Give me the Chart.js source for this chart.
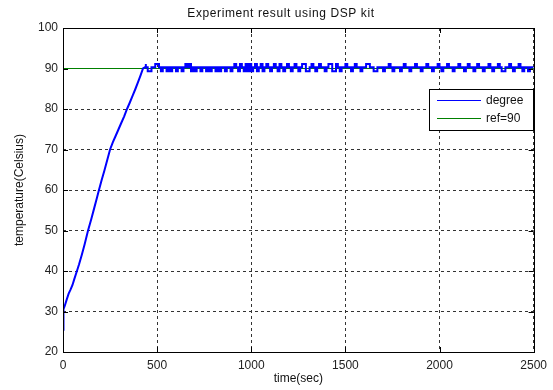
<!DOCTYPE html>
<html>
<head>
<meta charset="utf-8">
<script src="https://cdn.jsdelivr.net/npm/chart.js@4/dist/chart.umd.min.js"></script>
<style>
  html, body { margin: 0; padding: 0; background: #fff; }
  #wrap { width: 553px; height: 390px; }
</style>
</head>
<body>
<div id="wrap"><canvas id="graphCanvas" width="553" height="390"></canvas></div>
<script>
// rise part of the measured temperature (time in sec, value in Celsius)
const riseTime = [0, 0, 5, 10, 20, 30, 40, 50, 60, 74, 85, 100, 115, 133, 150, 165, 180, 191, 205, 220,
    235, 250, 265, 280, 295, 310, 325, 340, 355, 370, 385, 400, 412, 425, 435, 440];
const riseValue = [25.5, 30, 30.6, 31.5, 33, 34.4, 35.4, 36.5, 38, 40, 41.6, 44, 46.6, 50, 52.8, 55.4, 58, 60, 62.4, 64.8,
    67.4, 70, 71.8, 73.4, 75, 76.6, 78.2, 80, 81.6, 83.3, 85, 86.8, 88.3, 90, 90.3, 90.3];

// steady part, sampled every 10 sec starting at 440 sec
const plateauStart = 440;
const plateauStep = 10;
const plateauValue = [
    91.1, 90.3, 89.3, 89.3, 90.3, 90.3,
    91.1, 91.1, 90.3, 89.3, 90.3, 90.3, 89.3, 90.3, 89.3, 90.3,
    90.3, 89.3, 90.3, 90.3, 89.3, 90.3, 91.1, 90.3, 91.1, 89.3,
    90.3, 89.3, 90.3, 90.3, 89.3, 90.3, 90.3, 89.3, 90.3, 89.3,
    90.3, 90.3, 89.3, 90.3, 89.3, 90.3, 90.3, 89.3, 90.3, 90.3,
    89.3, 90.3, 91.1, 90.3, 89.3, 91.1, 90.3, 89.3, 91.1, 89.3,
    91.1, 89.3, 90.3, 91.1, 89.3, 90.3, 91.1, 89.3, 90.3, 91.1,
    90.3, 89.3, 90.3, 91.1, 90.3, 89.3, 91.1, 90.3, 89.3, 90.3,
    91.1, 90.3, 89.3, 90.3, 91.1, 90.3, 89.3, 90.3, 91.1, 91.1,
    89.3, 89.3, 90.3, 91.1, 90.3, 89.3, 90.3, 91.1, 90.3, 90.3,
    89.3, 90.3, 91.1, 91.1, 89.3, 89.3, 91.1, 90.3, 89.3, 90.3,
    90.3, 91.1, 90.3, 90.3, 89.3, 90.3, 91.1, 90.3, 90.3, 89.3,
    90.3, 90.3, 91.1, 91.1, 90.3, 90.3, 89.3, 89.3, 90.3, 90.3,
    90.3, 89.3, 90.3, 90.3, 91.1, 90.3, 89.3, 90.3, 90.3, 90.3,
    89.3, 90.3, 91.1, 90.3, 90.3, 89.3, 90.3, 90.3, 91.1, 90.3,
    90.3, 89.3, 90.3, 90.3, 91.1, 90.3, 90.3, 89.3, 90.3, 90.3,
    91.1, 90.3, 89.3, 90.3, 90.3, 91.1, 90.3, 90.3, 89.3, 90.3,
    90.3, 91.1, 90.3, 90.3, 89.3, 90.3, 91.1, 90.3, 90.3, 89.3,
    90.3, 91.1, 90.3, 90.3, 89.3, 90.3, 90.3, 91.1, 90.3, 89.3,
    90.3, 90.3, 91.1, 90.3, 89.3, 89.3, 90.3, 90.3, 91.1, 90.3,
    89.3, 90.3, 90.3, 91.1, 90.3, 89.3, 90.3, 90.3, 89.3, 90.3, 90.3
];

const refTime = [0, 2500];
const refValue = [90, 90];

const xTicks = [0, 500, 1000, 1500, 2000, 2500];
const yTicks = [20, 30, 40, 50, 60, 70, 80, 90, 100];

const seriesLabels = ['degree', 'ref=90'];
const seriesColors = ['#0000ff', '#008000'];
const chartTitle = 'Experiment result using DSP kit';

const risePoints = riseTime.map((t, i) => ({ x: t, y: riseValue[i] }));
const plateauPoints = plateauValue.map((v, i) => ({ x: plateauStart + i * plateauStep, y: v }));
const refPoints = refTime.map((t, i) => ({ x: t, y: refValue[i] }));

const FONT = 'Liberation Sans, Arial, sans-serif';

// title, box round the plot with inward ticks, and the legend inside it
const boxPlugin = {
    id: 'box',
    afterDatasetsDraw(chart) {
        const { ctx, chartArea: a, scales } = chart;
        ctx.save();
        ctx.strokeStyle = '#000';
        ctx.lineWidth = 1;
        ctx.beginPath();
        xTicks.forEach(v => {
            const px = Math.round(scales.x.getPixelForValue(v)) + 0.5;
            ctx.moveTo(px, a.bottom); ctx.lineTo(px, a.bottom - 5);
            ctx.moveTo(px, a.top); ctx.lineTo(px, a.top + 5);
        });
        yTicks.forEach(v => {
            const py = Math.round(scales.y.getPixelForValue(v)) + 0.5;
            ctx.moveTo(a.left, py); ctx.lineTo(a.left + 5, py);
            ctx.moveTo(a.right, py); ctx.lineTo(a.right - 5, py);
        });
        ctx.stroke();
        ctx.strokeRect(Math.round(a.left) + 0.5, Math.round(a.top) + 0.5,
            Math.round(a.right - a.left), Math.round(a.bottom - a.top));

        const lx = 429.5, ly = 89.5, lw = 104, lh = 41;
        ctx.fillStyle = '#fff';
        ctx.fillRect(lx, ly, lw, lh);
        ctx.strokeRect(lx, ly, lw, lh);
        ctx.font = '12px ' + FONT;
        ctx.textBaseline = 'middle';
        seriesLabels.forEach((lab, i) => {
            const y = 100.5 + i * 18;
            ctx.strokeStyle = seriesColors[i];
            ctx.beginPath();
            ctx.moveTo(437, y); ctx.lineTo(481, y);
            ctx.stroke();
            ctx.fillStyle = '#111';
            ctx.fillText(lab, 486, y);
        });

        ctx.fillStyle = '#111';
        ctx.textAlign = 'center';
        ctx.letterSpacing = '0.6px';
        ctx.fillText(chartTitle, 281, 14);
        ctx.restore();
    }
};

const ctx = document.getElementById('graphCanvas').getContext('2d');
new Chart(ctx, {
    type: 'line',
    data: {
        datasets: [{
            label: seriesLabels[1],
            data: refPoints,
            borderColor: seriesColors[1],
            borderWidth: 1,
            pointRadius: 0,
            order: 5
        }, {
            label: seriesLabels[0],
            data: risePoints,
            borderColor: seriesColors[0],
            borderWidth: 2,
            pointRadius: 0,
            order: 1
        }, {
            label: seriesLabels[0],
            data: plateauPoints,
            borderColor: seriesColors[0],
            borderWidth: 2,
            pointRadius: 0,
            stepped: 'after',
            order: 2
        }]
    },
    options: {
        responsive: false,
        animation: false,
        layout: { padding: { left: 0, right: 19, top: 28, bottom: 0 } },
        plugins: {
            legend: { display: false },
            tooltip: { enabled: false },
            title: { display: false }
        },
        scales: {
            x: {
                type: 'linear',
                min: 0,
                max: 2500,
                afterFit(scale) { scale.height = 38; },
                afterBuildTicks(scale) { scale.ticks = xTicks.map(v => ({ value: v })); },
                ticks: {
                    color: '#222',
                    font: { family: FONT, size: 12 },
                    padding: 6,
                    maxRotation: 0,
                    callback: v => String(v)
                },
                grid: {
                    color: '#333',
                    drawTicks: false
                },
                border: { display: false, dash: [3, 3] },
                title: {
                    display: true,
                    text: 'time(sec)',
                    color: '#111',
                    font: { family: FONT, size: 12 },
                    padding: { top: 0, bottom: 4 }
                }
            },
            y: {
                min: 20,
                max: 100,
                afterFit(scale) { scale.width = 63; },
                afterBuildTicks(scale) { scale.ticks = yTicks.map(v => ({ value: v })); },
                ticks: {
                    color: '#222',
                    font: { family: FONT, size: 12 },
                    padding: 5,
                    callback: v => String(v)
                },
                grid: {
                    color: '#333',
                    drawTicks: false
                },
                border: { display: false, dash: [3, 3] },
                title: {
                    display: true,
                    text: 'temperature(Celsius)',
                    color: '#111',
                    font: { family: FONT, size: 12 },
                    padding: { top: 12, bottom: 0 }
                }
            }
        }
    },
    plugins: [boxPlugin]
});
</script>
</body>
</html>
